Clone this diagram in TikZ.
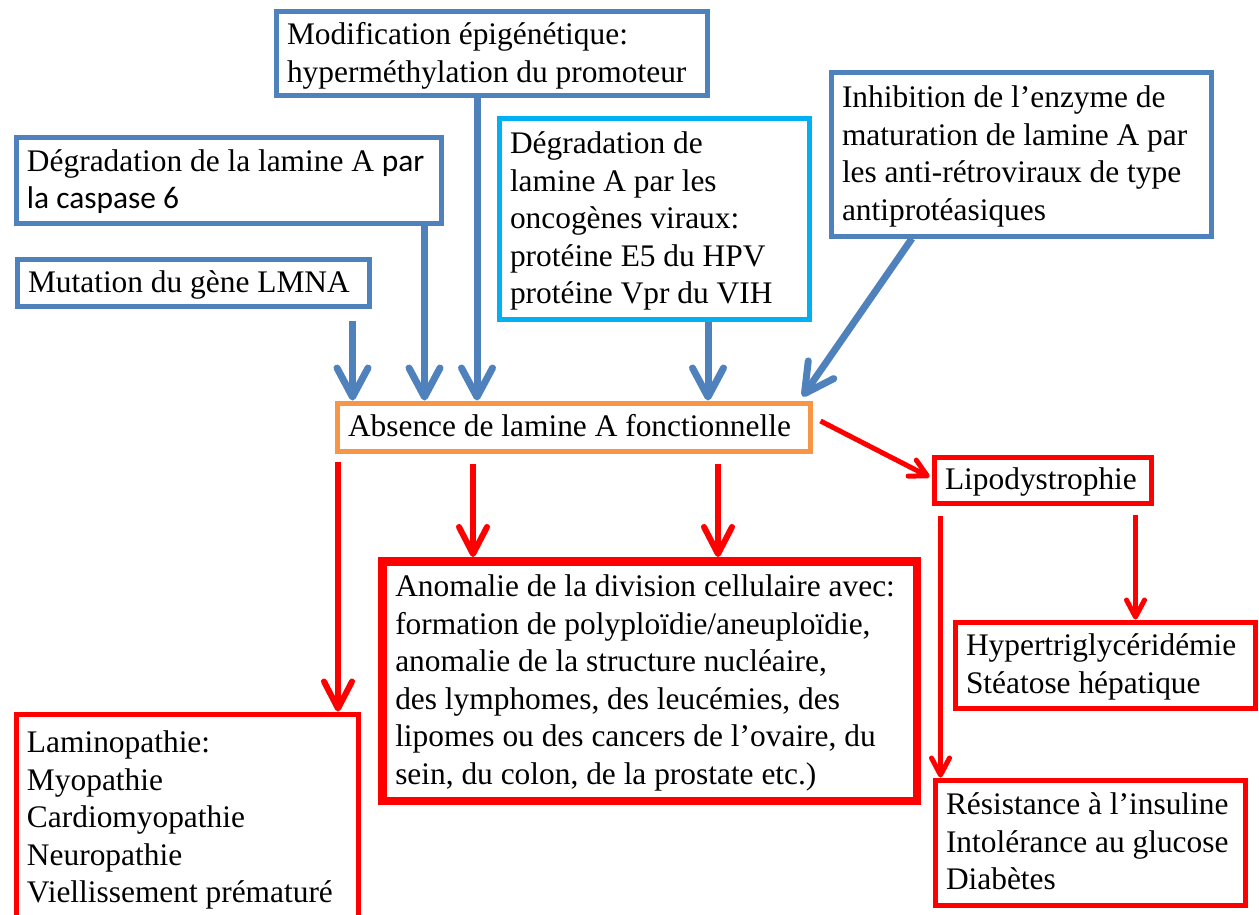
\documentclass[tikz,border=0pt]{standalone}
\usepackage{fontspec}
\setmainfont{Liberation Serif}
\newfontfamily\calib{Carlito}
\usetikzlibrary{arrows.meta,positioning}

\definecolor{boxblue}{HTML}{4F81BD}
\definecolor{boxcyan}{HTML}{00B0F0}
\definecolor{boxorange}{HTML}{F79646}
\definecolor{boxred}{HTML}{FF0000}

\begin{document}
\begin{tikzpicture}[x=1pt,y=-1pt,
		box/.style={draw, line width=5pt, align=flush left, inner xsep=11pt, inner ysep=3pt,
			font=\fontsize{31.4}{37.5}\selectfont,
			execute at begin node={\rule{0pt}{26pt}},
			execute at end node={\rule[-7pt]{0pt}{7pt}}},
		bluebox/.style={box, draw=boxblue},
		cyanbox/.style={box, draw=boxcyan},
		orangebox/.style={box, draw=boxorange},
		redbox/.style={box, draw=boxred},
		bluearr/.style={draw=boxblue, line width=7pt, -{Straight Barb[length=29pt,width=31pt,round]}},
		redarr/.style={draw=boxred, line width=6pt, -{Straight Barb[length=27pt,width=28pt,round]}},
		smallarr/.style={draw=boxred, line width=5pt, -{Straight Barb[length=17pt,width=18pt,round]}}]
			\useasboundingbox (0,0) rectangle (1259,915);

			% causes
			\node[bluebox, text width=409pt, minimum height=84pt] (modif) at (491.5,54) {Modification épigénétique:\\hyperméthylation du promoteur};
			\node[bluebox, text width=403pt, minimum height=85pt] (casp) at (228.5,180.5) {Dégradation de la lamine A {\calib par}\\{\calib la caspase 6}};
			\node[bluebox, text width=330pt, minimum height=47pt] (mut) at (193,282.5) {Mutation du gène LMNA};
			\node[cyanbox, text width=288pt, minimum height=200pt] (viral) at (654,219) {Dégradation de\\lamine A par les\\oncogènes viraux:\\protéine E5 du HPV\\protéine Vpr du VIH};
			\node[bluebox, text width=358pt, minimum height=163pt] (inhib) at (1021,154.5) {Inhibition de l’enzyme de\\maturation de lamine A par\\les anti-rétroviraux de type\\antiprotéasiques};

			\node[orangebox, text width=451pt, minimum height=48pt] (abs) at (573.5,427) {Absence de lamine A fonctionnelle};

			% consequences
			\node[redbox, text width=195pt, minimum height=46pt] (lipo) at (1042.5,480) {Lipodystrophie};
			\node[redbox, text width=278pt, minimum height=86pt] (hyper) at (1105,665) {Hypertriglycéridémie\\Stéatose hépatique};
			\node[redbox, text width=288pt, minimum height=125pt] (resist) at (1090,842.5) {Résistance à l’insuline\\Intolérance au glucose\\Diabètes};
			\node[redbox, line width=8.5pt, inner xsep=13pt, text width=508.5pt, minimum height=239.5pt] (anom) at (649.5,681) {Anomalie de la division cellulaire avec:\\formation de polyploïdie/aneuploïdie,\\anomalie de la structure nucléaire,\\des lymphomes, des leucémies, des\\lipomes ou des cancers de l’ovaire, du\\sein, du colon, de la prostate etc.)};
			\node[redbox, text width=320pt, minimum height=208pt] (lamino) at (187,818) {Laminopathie:\\Myopathie\\Cardiomyopathie\\Neuropathie\\Viellissement prématuré};

			\draw[bluearr] ([xshift=-19pt,yshift=-12pt]mut.south east) -- ([xshift=-19pt]mut.south east |- abs.north);
			\draw[bluearr] ([xshift=-19pt]casp.south east) -- ([xshift=-19pt]casp.south east |- abs.north);
			\draw[bluearr] ([xshift=-14.5pt]modif.south) -- ([xshift=-14.5pt]modif.south |- abs.north);
			\draw[bluearr] ([xshift=54pt]viral.south) -- ([xshift=54pt]viral.south |- abs.north);
			\draw[bluearr] ([xshift=-109pt]inhib.south) -- ([xshift=-10pt,yshift=4pt]abs.north east);

			\draw[redarr] ([xshift=-235.5pt,yshift=-8pt]abs.south) -- ([xshift=-235.5pt]abs.south |- lamino.north);
			\draw[redarr] ([xshift=-100.5pt,yshift=-10pt]abs.south) -- ([xshift=-100.5pt]abs.south |- anom.north);
			\draw[redarr] ([xshift=144.5pt,yshift=-10pt]abs.south) -- ([xshift=144.5pt]abs.south |- anom.north);
			\draw[smallarr] ([xshift=8pt,yshift=6pt]abs.east) -- ([xshift=-2pt,yshift=3pt]lipo.west);
			\draw[smallarr] ([xshift=-18pt,yshift=-9pt]lipo.south east) -- ([xshift=-18pt]lipo.south east |- hyper.north);
			\draw[smallarr] ([xshift=9pt,yshift=-10pt]lipo.south west) -- ([xshift=9pt]lipo.south west |- resist.north);
		\end{tikzpicture}
\end{document}
